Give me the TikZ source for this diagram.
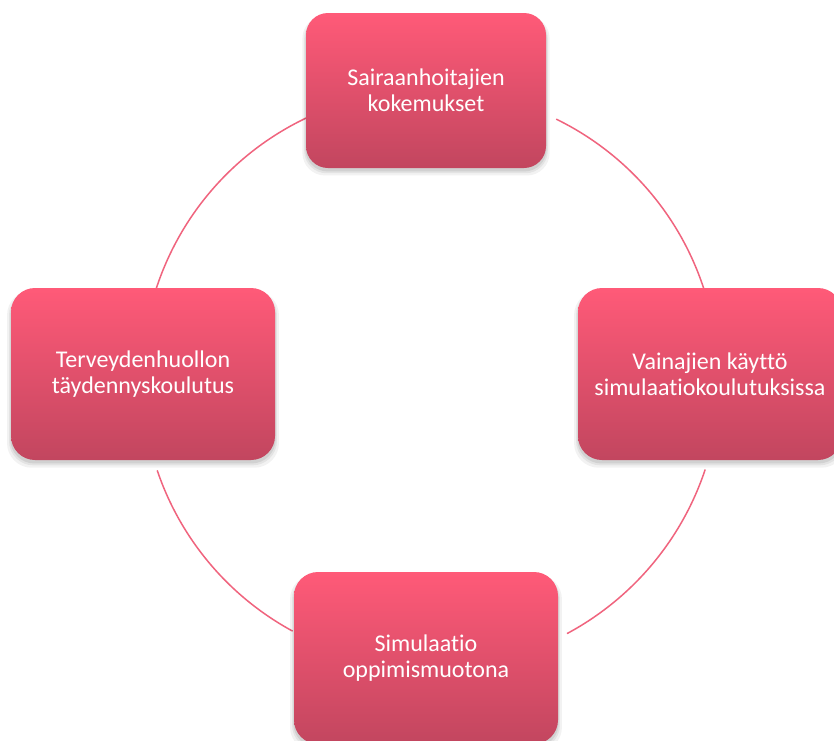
\documentclass[tikz,border=0pt]{standalone}
\usepackage{fontspec}
\setmainfont{Carlito}[Ligatures={NoCommon}]
\usetikzlibrary{shadows,calc}
\definecolor{boxtop}{RGB}{255,90,120}
\definecolor{boxbot}{RGB}{194,70,95}
\definecolor{ringcol}{RGB}{240,100,126}
\tikzset{
  boxnode/.style={rounded corners=24pt, minimum width=264pt, minimum height=172pt,
    top color=boxtop, bottom color=boxbot, draw=none, text=white, align=center,
    font=\fontsize{24}{26}\selectfont, inner sep=0pt,
    general shadow={fill=black, opacity=0.05, shadow yshift=-5pt, shadow scale=1.03},
    general shadow={fill=black, opacity=0.06, shadow yshift=-4pt, shadow scale=1.015},
    general shadow={fill=black, opacity=0.08, shadow yshift=-3pt, shadow scale=1.005}},
  smallbox/.style={boxnode, minimum width=240pt, minimum height=155pt, rounded corners=22pt},
  ring/.style={draw=ringcol, line width=1.5pt}
}
\begin{document}
\begin{tikzpicture}[x=1pt,y=-1pt]
\useasboundingbox (0,0) rectangle (834,740);
\clip (0,0) rectangle (834,740);
\fill[white] (0,0) rectangle (834,740);
\coordinate (c) at (430,378);
\draw[ring] ($(c)+(17.7:288pt)$) arc[start angle=17.7, end angle=64, radius=288pt];
\draw[ring] ($(c)+(115.4:288pt)$) arc[start angle=115.4, end angle=162.1, radius=288pt];
\draw[ring] ($(c)+(198.7:288pt)$) arc[start angle=198.7, end angle=241.5, radius=288pt];
\draw[ring] ($(c)+(298.2:290pt)$) arc[start angle=298.2, end angle=341.6, radius=290pt];
\node[smallbox] (top) at (426,90.5) {Sairaanhoitajien\\kokemukset};
\node[boxnode] (right) at (710,374) {Vainajien käyttö\\simulaatiokoulutuksissa};
\node[boxnode] (bottom) at (426,658) {Simulaatio\\oppimismuotona};
\node[boxnode] (left) at (143,374) {Terveydenhuollon\\täydennyskoulutus};
\end{tikzpicture}
\end{document}
